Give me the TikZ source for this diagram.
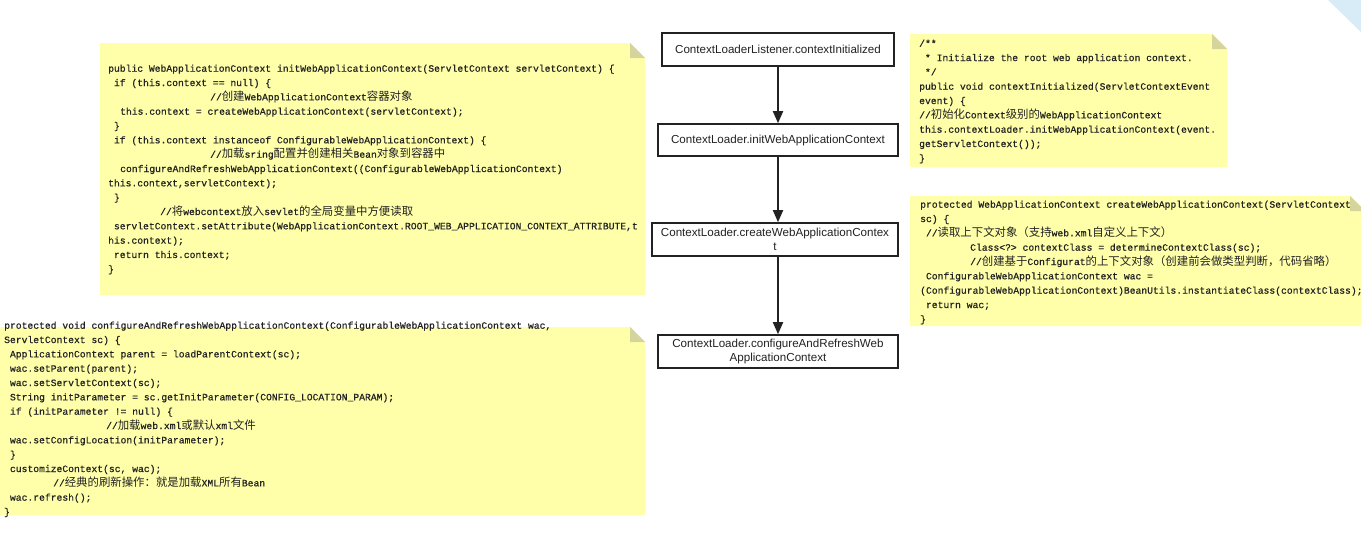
\documentclass[tikz,border=0pt]{standalone}
\usepackage{fontspec}
\setmainfont{Liberation Sans}
\newfontfamily\codef[FakeBold=0.6]{Liberation Mono}
\newfontfamily\cjkf{Noto Sans CJK SC}
\usetikzlibrary{arrows.meta}
\newcommand\zh[1]{{\cjkf\fontsize{11.4}{14.33}\selectfont #1}}
\newcommand\ind[1]{\hspace*{#1pt}}
\definecolor{noteyellow}{HTML}{FFFFAA}
\definecolor{notefold}{HTML}{D4D49C}
\definecolor{cornerblue}{HTML}{D8ECF8}
\definecolor{inkdark}{HTML}{222222}
\newcommand\stickynote[4]{%
  \fill[noteyellow] (#1,#2) -- (#3-15,#2) -- (#3,#2+15) -- (#3,#4) -- (#1,#4) -- cycle;
  \fill[notefold] (#3-15,#2) -- (#3-15,#2+15) -- (#3,#2+15) -- cycle;}
\tikzset{
  codetext/.style={anchor=north west, inner sep=0pt, align=left, text=inkdark,
    font=\codef\fontsize{9.7}{14.33}\selectfont},
  flowbox/.style={draw=inkdark, line width=1.6pt, fill=white, inner sep=2pt,
    font=\fontsize{11.6}{14.5}\selectfont, align=center, text=inkdark},
  flowarrow/.style={draw=inkdark, line width=1.8pt, -{Triangle[length=12pt,width=10pt]}},
}
\begin{document}
\begin{tikzpicture}[x=1pt,y=-1pt]
\clip (0,0) rectangle (1361,536);
\fill[white] (0,0) rectangle (1361,536);
\fill[cornerblue] (1328,0) -- (1361,0) -- (1361,32) -- cycle;

% notes
\stickynote{100}{43}{645}{295}
\stickynote{0}{327}{645}{515}
\stickynote{910}{34}{1227}{167}
\stickynote{910}{196}{1365}{326}

\node[codetext] (n1) at (108,59.5) {\rule{0pt}{12pt}public WebApplicationContext initWebApplicationContext(ServletContext servletContext) \{\\
\ind{5.8}if (this.context == null) \{\\
\ind{102}//\zh{创建}WebApplicationContext\zh{容器对象}\\
\ind{12}this.context = createWebApplicationContext(servletContext);\\
\ind{5.8}\}\\
\ind{5.8}if (this.context instanceof ConfigurableWebApplicationContext) \{\\
\ind{102}//\zh{加载}sring\zh{配置并创建相关}Bean\zh{对象到容器中}\\
\ind{12}configureAndRefreshWebApplicationContext((ConfigurableWebApplicationContext)\\
this.context,servletContext);\\
\ind{5.8}\}\\
\ind{52}//\zh{将}webcontext\zh{放入}sevlet\zh{的全局变量中方便读取}\\
\ind{5.8}servletContext.setAttribute(WebApplicationContext.ROOT\_WEB\_APPLICATION\_CONTEXT\_ATTRIBUTE,t\\
his.context);\\
\ind{5.8}return this.context;\\
\}};

\node[codetext] (n2) at (4,316.5) {\rule{0pt}{12pt}protected void configureAndRefreshWebApplicationContext(ConfigurableWebApplicationContext wac,\\
ServletContext sc) \{\\
\ind{5.8}ApplicationContext parent = loadParentContext(sc);\\
\ind{5.8}wac.setParent(parent);\\
\ind{5.8}wac.setServletContext(sc);\\
\ind{5.8}String initParameter = sc.getInitParameter(CONFIG\_LOCATION\_PARAM);\\
\ind{5.8}if (initParameter != null) \{\\
\ind{102}//\zh{加载}web.xml\zh{或默认}xml\zh{文件}\\
\ind{5.8}wac.setConfigLocation(initParameter);\\
\ind{5.8}\}\\
\ind{5.8}customizeContext(sc, wac);\\
\ind{49}//\zh{经典的刷新操作：就是加载}XML\zh{所有}Bean\\
\ind{5.8}wac.refresh();\\
\}};

\node[codetext] (n3) at (919,34.5) {\rule{0pt}{12pt}/**\\
\ind{5.8}* Initialize the root web application context.\\
\ind{5.8}*/\\
public void contextInitialized(ServletContextEvent\\
event) \{\\
//\zh{初始化}Context\zh{级别的}WebApplicationContext\\
this.contextLoader.initWebApplicationContext(event.\\
getServletContext());\\
\}};

\node[codetext] (n4) at (920,195.5) {\rule{0pt}{12pt}protected WebApplicationContext createWebApplicationContext(ServletContext\\
sc) \{\\
\ind{5.8}//\zh{读取上下文对象（支持}web.xml\zh{自定义上下文）}\\
\ind{50}Class<?> contextClass = determineContextClass(sc);\\
\ind{50}//\zh{创建基于}Configurat\zh{的上下文对象（创建前会做类型判断，代码省略）}\\
\ind{5.8}ConfigurableWebApplicationContext wac =\\
(ConfigurableWebApplicationContext)BeanUtils.instantiateClass(contextClass);\\
\ind{5.8}return wac;\\
\}};

% flow boxes
\node[flowbox, minimum width=232pt, minimum height=33pt] (b1) at (778,49.5) {ContextLoaderListener.contextInitialized};
\node[flowbox, minimum width=240pt, minimum height=32pt] (b2) at (778,140) {ContextLoader.initWebApplicationContext};
\node[flowbox, minimum width=246pt, minimum height=33pt] (b3) at (775,239.5) {ContextLoader.createWebApplicationContex\\t};
\node[flowbox, minimum width=240pt, minimum height=33pt] (b4) at (778,351.5) {ContextLoader.configureAndRefreshWeb\\ApplicationContext};

\draw[flowarrow] (b1.south) -- (b1.south |- b2.north);
\draw[flowarrow] (b2.south) -- (b2.south |- b3.north);
\draw[flowarrow] (b4.north |- b3.south) -- (b4.north);
\end{tikzpicture}
\end{document}
